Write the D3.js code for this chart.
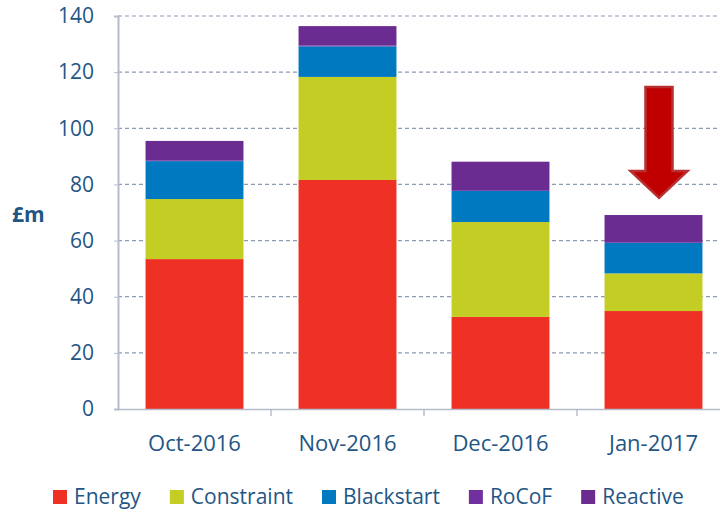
<!DOCTYPE html>
<html><head><meta charset="utf-8">
<script src="https://cdn.jsdelivr.net/npm/d3@7"></script>
<style>body{margin:0;background:#fff}svg{display:block}</style>
</head><body>
<svg id="c" width="720" height="512"></svg>
<script>
const months = ["Oct-2016", "Nov-2016", "Dec-2016", "Jan-2017"];
const seriesNames = ["Energy", "Constraint", "Blackstart", "RoCoF", "Reactive"];
const energy     = [53.4, 81.6, 32.8, 34.9];
const constraint = [21.4, 36.7, 33.8, 13.4];
const blackstart = [13.5, 10.9, 11.1, 10.9];
const rocof      = [0.3, 0.3, 0.3, 0.3];
const reactive   = [6.9, 6.9, 10.1, 9.6];
const yTicks = [0, 20, 40, 60, 80, 100, 120, 140];
const colors = ["#EE3124", "#C4CD23", "#0079C1", "#7030A0", "#6B2C91"];

const svg = d3.select("#c");
const txt = "#1F5685";
const font = "'Open Sans', sans-serif";

const x = d3.scaleBand().domain(months).range([118, 730]).paddingInner(0.36).paddingOuter(0.18);
const xb = d3.scaleBand().domain(months).range([118, 730]);
const y = d3.scaleLinear().domain([0, 140]).range([409, 16]);

// gridlines
svg.append("g").selectAll("line").data(yTicks.filter(d => d > 0)).join("line")
  .attr("x1", 118).attr("x2", 720)
  .attr("y1", d => y(d)).attr("y2", d => y(d))
  .attr("stroke", "#8C9AB4").attr("stroke-width", 1.2).attr("stroke-dasharray", "4,3");

// stacked bars
const table = months.map((m, i) => ({month: m, Energy: energy[i], Constraint: constraint[i],
  Blackstart: blackstart[i], RoCoF: rocof[i], Reactive: reactive[i]}));
const stack = d3.stack().keys(seriesNames)(table);
svg.append("g").selectAll("g").data(stack).join("g")
  .attr("fill", (d, i) => colors[i])
  .selectAll("rect").data(d => d).join("rect")
  .attr("x", d => x(d.data.month)).attr("width", x.bandwidth())
  .attr("y", d => y(d[1])).attr("height", d => y(d[0]) - y(d[1]));

// y axis
const yAxis = svg.append("g").attr("transform", "translate(118,0)")
  .call(d3.axisLeft(y).tickValues(yTicks).tickSize(4).tickPadding(20));
yAxis.select(".domain").attr("stroke", "#B4BCCC").attr("stroke-width", 2);
yAxis.selectAll(".tick line").attr("stroke", "#B4BCCC");
yAxis.selectAll("text").attr("fill", txt).attr("font-family", font).attr("font-size", 21);

// x axis
const xAxis = svg.append("g").attr("transform", "translate(0,409)")
  .call(d3.axisBottom(x).tickSize(0).tickPadding(26));
xAxis.select(".domain").attr("stroke", "#B4BCCC").attr("stroke-width", 1.5);
xAxis.selectAll("text").attr("fill", txt).attr("font-family", font).attr("font-size", 22);
svg.append("g").selectAll("line").data(months.slice(1)).join("line")
  .attr("x1", d => xb(d)).attr("x2", d => xb(d)).attr("y1", 409).attr("y2", 416)
  .attr("stroke", "#B4BCCC").attr("stroke-width", 1.5);

// y label
svg.append("text").attr("x", 12).attr("y", 222).text("£m")
  .attr("fill", txt).attr("font-family", font).attr("font-size", 21).attr("font-weight", "bold");

// arrow annotation
const ax = x("Jan-2017") + x.bandwidth() / 2 + 5.5;
const aTop = y(114.7), aHead = y(84.8), aTip = y(75.2);
const sw = 13.5, hw = 28.5;
svg.append("path")
  .attr("d", `M${ax - sw},${aTop} L${ax + sw},${aTop} L${ax + sw},${aHead} L${ax + hw},${aHead} L${ax},${aTip} L${ax - hw},${aHead} L${ax - sw},${aHead} Z`)
  .attr("fill", "#C00000").attr("stroke", "#B83030").attr("stroke-width", 2.5).attr("stroke-linejoin", "miter");

// legend
const leg = svg.append("g").attr("font-family", font).attr("font-size", 21);
let lx = 53;
seriesNames.forEach((n, i) => {
  leg.append("rect").attr("x", lx).attr("y", 490).attr("width", 14).attr("height", 14).attr("fill", colors[i]);
  const t = leg.append("text").attr("x", lx + 21).attr("y", 504).text(n).attr("fill", txt);
  const w = t.node().getComputedTextLength();
  lx += 21 + w + 29;
});
</script>
</body></html>
